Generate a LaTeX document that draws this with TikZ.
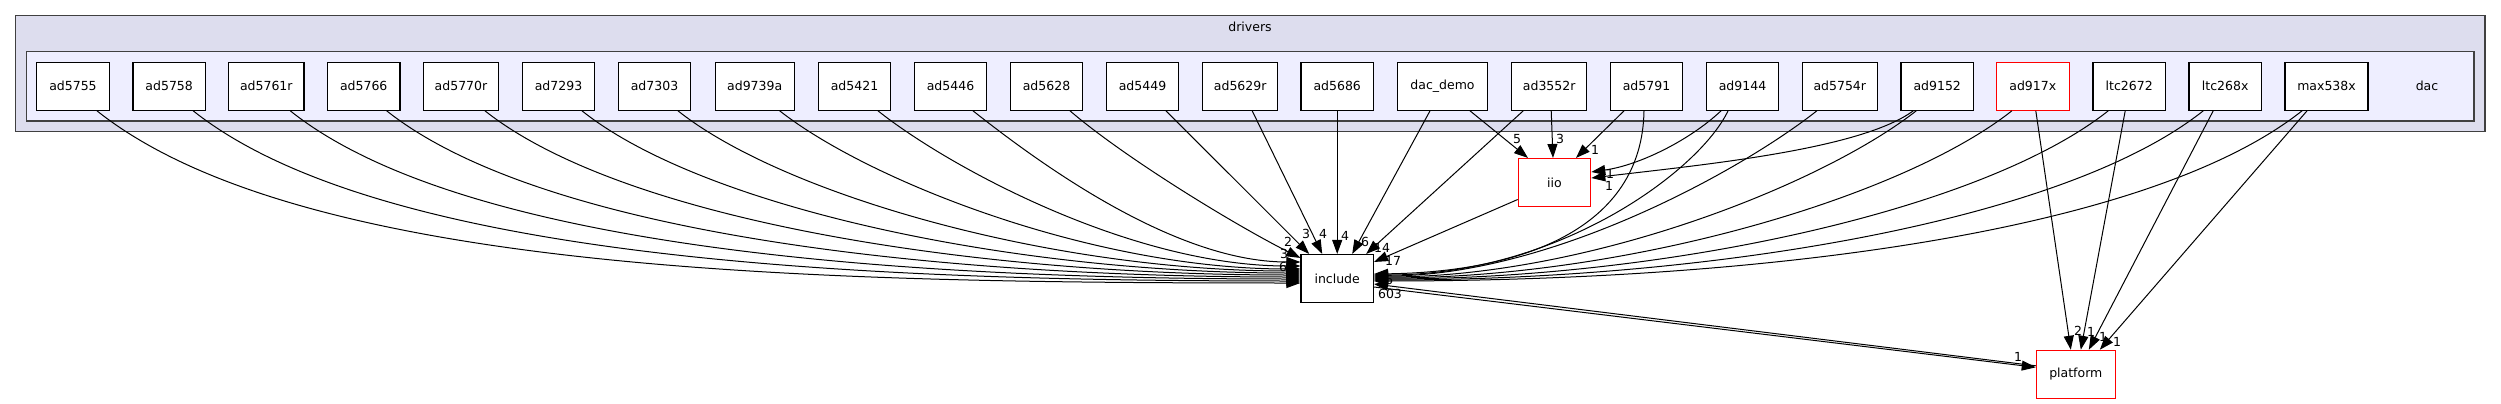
\documentclass[tikz,border=0pt]{standalone}
\usepackage{fontspec}
\setmainfont{DejaVu Sans}
\usetikzlibrary{arrows.meta,calc}
\definecolor{outerfill}{HTML}{DDDDEE}
\definecolor{innerfill}{HTML}{EEEEFF}
\definecolor{clusterline}{HTML}{404040}
\tikzset{
  dirbox/.style={draw=black, fill=white, line width=1.1pt, minimum height=48pt, minimum width=72.5pt, inner sep=0pt, font=\fontsize{12.5}{15}\selectfont},
  redbox/.style={dirbox, draw=red},
  cluster/.style={draw=clusterline, line width=1.4pt},
  clabel/.style={font=\fontsize{12.5}{15}\selectfont, inner sep=0pt},
  elabel/.style={font=\fontsize{12.5}{15}\selectfont, inner sep=0pt},
  depedge/.style={draw=black, line width=1pt, -{Triangle[length=14pt,width=10pt]}}
}
\begin{document}
\begin{tikzpicture}[x=1pt,y=-1pt]
\useasboundingbox (0,0) rectangle (2501,404);
% clusters
\draw[cluster, fill=outerfill] (15.7,15.7) rectangle (2485,131.7);
\node[clabel] (driverslbl) at (1250,27) {drivers};
\draw[cluster, fill=innerfill] (26.3,51.7) rectangle (2474,121);
\node[clabel] (daclbl) at (2427,86.3) {dac};
% folder nodes
\node[dirbox] (ad5755) at (73,86.3) {ad5755};
\node[dirbox] (ad5758) at (169.2,86.3) {ad5758};
\node[dirbox, minimum width=75.3pt] (ad5761r) at (266.3,86.3) {ad5761r};
\node[dirbox] (ad5766) at (363.7,86.3) {ad5766};
\node[dirbox, minimum width=75.3pt] (ad5770r) at (461,86.3) {ad5770r};
\node[dirbox] (ad7293) at (558.5,86.3) {ad7293};
\node[dirbox] (ad7303) at (654.5,86.3) {ad7303};
\node[dirbox, minimum width=79.3pt] (ad9739a) at (754.7,86.3) {ad9739a};
\node[dirbox] (ad5421) at (854.5,86.3) {ad5421};
\node[dirbox] (ad5446) at (950.5,86.3) {ad5446};
\node[dirbox] (ad5628) at (1046.5,86.3) {ad5628};
\node[dirbox] (ad5449) at (1142.5,86.3) {ad5449};
\node[dirbox, minimum width=75pt] (ad5629r) at (1240.2,86.3) {ad5629r};
\node[dirbox] (ad5686) at (1337.2,86.3) {ad5686};
\node[dirbox, minimum width=89.6pt] (dacdemo) at (1442.5,86.3) {dac\_demo};
\node[dirbox, minimum width=75pt] (ad3552r) at (1549.2,86.3) {ad3552r};
\node[dirbox] (ad5791) at (1646.5,86.3) {ad5791};
\node[dirbox] (ad9144) at (1742.5,86.3) {ad9144};
\node[dirbox, minimum width=75pt] (ad5754r) at (1839.8,86.3) {ad5754r};
\node[dirbox] (ad9152) at (1937.2,86.3) {ad9152};
\node[redbox] (ad917x) at (2032.8,86.3) {ad917x};
\node[dirbox] (ltc2672) at (2129.2,86.3) {ltc2672};
\node[dirbox] (ltc268x) at (2225.2,86.3) {ltc268x};
\node[dirbox, minimum width=83pt] (max538x) at (2326.5,86.3) {max538x};
% external nodes
\node[dirbox] (include) at (1337.2,278.5) {include};
\node[redbox] (iio) at (1554.5,182.5) {iio};
\node[redbox, minimum width=79pt] (platform) at (2075.8,374.3) {platform};
% left group -> include
\draw[depedge] ($(ad5755.south)+(24,0)$) .. controls (302,274) and (819,283) .. ($(include.west)+(0,4.5)$);
\draw[depedge] ($(ad5758.south)+(24,0)$) .. controls (381,260) and (858,281) .. ($(include.west)+(0,2.5)$);
\draw[depedge] ($(ad5761r.south)+(24,0)$) .. controls (462,248) and (897,279) .. ($(include.west)+(0,0.5)$);
\draw[depedge] ($(ad5766.south)+(23,0)$) .. controls (542,234) and (935,277) .. ($(include.west)+(0,-1.5)$);
\draw[depedge] ($(ad5770r.south)+(24,0)$) .. controls (624,221) and (975,275) .. ($(include.west)+(0,-3.5)$);
\draw[depedge] ($(ad7293.south)+(23.5,0)$) .. controls (704,208) and (1013,273) .. ($(include.west)+(0,-5.5)$);
\draw[depedge] ($(ad7303.south)+(23.5,0)$) .. controls (784,195) and (1052,271) .. ($(include.west)+(0,-7.5)$);
\draw[depedge] ($(ad9739a.south)+(25,0)$) .. controls (869,181) and (1093,269) .. ($(include.west)+(0,-9.5)$);
\draw[depedge] ($(ad5421.south)+(23.5,0)$) .. controls (950,168) and (1132,266) .. ($(include.west)+(0,-12.5)$);
\draw[depedge] ($(ad5446.south)+(22.5,0)$) .. controls (1029,155) and (1170,262) .. ($(include.west)+(0,-16.5)$);
% top group -> include
\draw[depedge] ($(ad5628.south)+(23.5,0)$) .. controls (1125,158) and (1235,225) .. ($(include.north west)+(0,4)$);
\draw[depedge] ($(ad5449.south)+(23.5,0)$) -- ($(include.north)+(-28,0)$);
\draw[depedge] ($(ad5629r.south)+(12,0)$) -- ($(include.north)+(-15,0)$);
\draw[depedge] (ad5686.south) -- (include.north);
\draw[depedge] ($(dacdemo.south)+(-12.5,0)$) -- ($(include.north)+(15,0)$);
\draw[depedge] ($(ad3552r.south)+(-26,0)$) -- ($(include.north)+(29,0)$);
% right group -> include
\draw[depedge] ($(ad5791.south)+(-2.5,0)$) .. controls (1642,230) and (1520,272) .. ($(include.east)+(0,-4.5)$);
\draw[depedge] ($(ad9144.south)+(-14.5,0)$) .. controls (1700,170) and (1560,275) .. ($(include.east)+(0,-3.5)$);
\draw[depedge] ($(ad5754r.south)+(-23,0)$) .. controls (1742,170) and (1551,276) .. ($(include.east)+(0,-2.5)$);
\draw[depedge] ($(ad9152.south)+(-21,0)$) .. controls (1823,184) and (1590,277) .. ($(include.east)+(0,-1.5)$);
\draw[depedge] ($(ad917x.south)+(-21,0)$) .. controls (1903,197) and (1629,278) .. ($(include.east)+(0,-0.5)$);
\draw[depedge] ($(ltc2672.south)+(-21,0)$) .. controls (1983,210) and (1667,279) .. ($(include.east)+(0,0.5)$);
\draw[depedge] ($(ltc268x.south)+(-22,0)$) .. controls (2062,223) and (1705,280) .. ($(include.east)+(0,1.5)$);
\draw[depedge] ($(max538x.south)+(-24.5,0)$) .. controls (2144,236) and (1745,281) .. ($(include.east)+(0,2.5)$);
% -> iio
\draw[depedge] ($(dacdemo.south)+(27.5,0)$) -- ($(iio.north)+(-26.5,0)$);
\draw[depedge] ($(ad3552r.south)+(2,0)$) -- ($(iio.north)+(-1.5,0)$);
\draw[depedge] ($(ad5791.south)+(-22.5,0)$) -- ($(iio.north)+(21.5,0)$);
\draw[depedge] ($(ad9144.south)+(-21.5,0)$) .. controls (1690,140) and (1640,165) .. ($(iio.east)+(0,-10.5)$);
\draw[depedge] ($(ad9152.south)+(-24,0)$) .. controls (1860,150) and (1700,165) .. ($(iio.east)+(0,-4.5)$);
% iio -> include
\draw[depedge] ($(iio.west)+(0,17)$) -- ($(include.north east)+(0,8)$);
% -> platform
\draw[depedge] ($(ad917x.south)+(3,0)$) -- ($(platform.north)+(-5,0)$);
\draw[depedge] ($(ltc2672.south)+(-4,0)$) -- ($(platform.north)+(5,0)$);
\draw[depedge] ($(ltc268x.south)+(-12,0)$) -- ($(platform.north)+(13,0)$);
\draw[depedge] ($(max538x.south)+(-19.5,0)$) -- ($(platform.north)+(24,0)$);
% include <-> platform
\draw[depedge] ($(include.east)+(0,8.5)$) -- ($(platform.west)+(0,-7)$);
\draw[depedge] ($(platform.west)+(0,-8.5)$) -- ($(include.east)+(0,5.5)$);
% edge labels
\node[elabel] (l1) at (1288,242) {2};
\node[elabel] (l2) at (1306,234) {3};
\node[elabel] (l3) at (1323,234) {4};
\node[elabel] (l4) at (1345,236) {4};
\node[elabel] (l5) at (1365,242) {6};
\node[elabel] (l6) at (1382,248) {14};
\node[elabel] (l7) at (1393,261) {17};
\node[elabel] (l8) at (1389,280) {6};
\node[elabel] (l9) at (1390,294) {603};
\node[elabel] (l10) at (1284,254) {3};
\node[elabel] (l11) at (1283,267) {6};
\node[elabel] (l13) at (1517,139) {5};
\node[elabel] (l14) at (1560,139) {3};
\node[elabel] (l15) at (1595,150) {1};
\node[elabel] (l16) at (1610,174) {1};
\node[elabel] (l17) at (1609,186) {1};
\node[elabel] (l18) at (2078,331) {2};
\node[elabel] (l19) at (2091,332) {1};
\node[elabel] (l20) at (2103,337) {1};
\node[elabel] (l21) at (2117,342) {1};
\node[elabel] (l22) at (2018,357) {1};
\end{tikzpicture}
\end{document}
